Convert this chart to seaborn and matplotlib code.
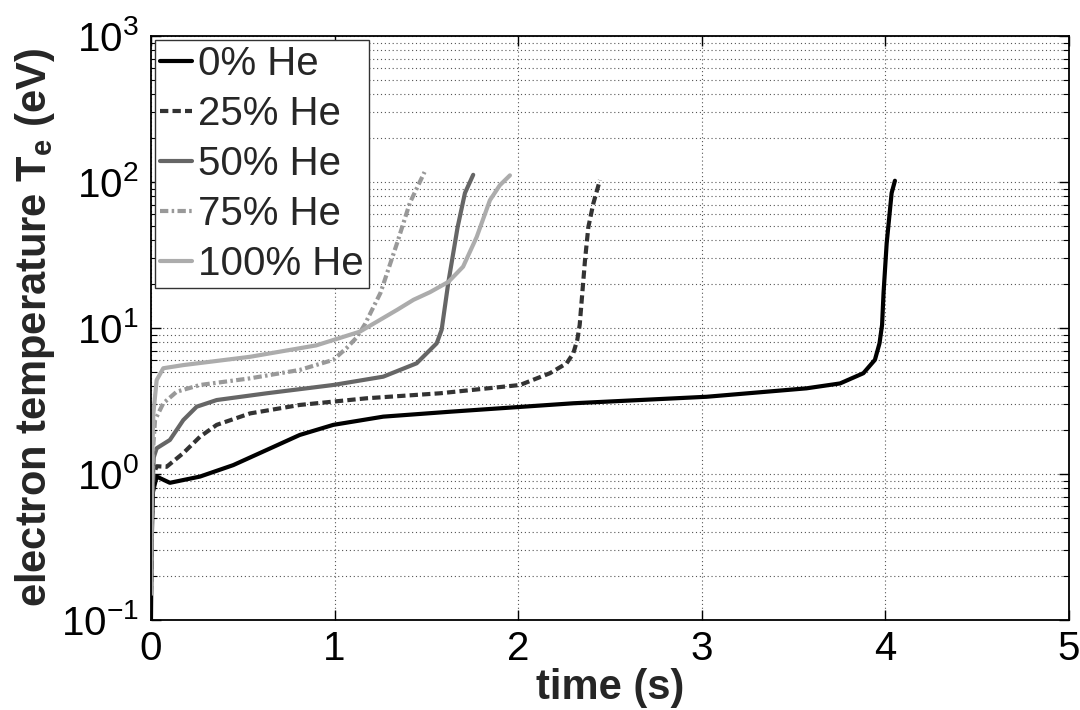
import numpy as np
import pandas as pd
import matplotlib
matplotlib.use("Agg")
import matplotlib.pyplot as plt
from matplotlib.ticker import LogLocator, FixedLocator
import seaborn as sns

# Electron temperature evolution for different helium fractions
t_0 = [0.0, 0.003, 0.01, 0.031, 0.103, 0.267, 0.448, 0.63, 0.81, 0.993,
       1.265, 1.63, 2.30, 3.027, 3.57, 3.753, 3.88, 3.943, 3.968, 3.982,
       3.99, 4.007, 4.034, 4.052]
te_0 = [0.1, 0.3, 0.75, 0.96, 0.87, 0.96, 1.15, 1.46, 1.85, 2.17,
        2.47, 2.67, 3.05, 3.38, 3.86, 4.17, 4.9, 6.05, 7.85, 10.5,
        17.4, 38, 84, 102]

t_25 = [0.0, 0.005, 0.015, 0.031, 0.085, 0.176, 0.267, 0.358, 0.54, 0.81,
        1.175, 1.574, 2.01, 2.173, 2.264, 2.30, 2.322, 2.335, 2.364, 2.382,
        2.409, 2.445]
te_25 = [0.15, 0.5, 1.0, 1.13, 1.12, 1.39, 1.8, 2.17, 2.6, 2.97,
         3.3, 3.57, 4.07, 4.9, 5.73, 6.7, 8.3, 10.5, 29.2, 49,
         71, 103]

t_50 = [0.0, 0.005, 0.015, 0.031, 0.103, 0.176, 0.249, 0.358, 0.63, 0.993,
        1.265, 1.447, 1.556, 1.583, 1.62, 1.67, 1.71, 1.755]
te_50 = [0.2, 0.6, 1.3, 1.5, 1.71, 2.34, 2.89, 3.21, 3.57, 4.07,
         4.64, 5.73, 7.85, 9.7, 20.7, 49, 84, 112]

t_75 = [0.0, 0.005, 0.013, 0.022, 0.067, 0.14, 0.267, 0.54, 0.81, 0.993,
        1.066, 1.12, 1.165, 1.25, 1.34, 1.41, 1.49]
te_75 = [0.3, 0.8, 1.6, 2.34, 3.05, 3.66, 4.07, 4.52, 5.16, 6.05,
         7.3, 8.6, 10.6, 17.4, 38, 72, 117]

t_100 = [0.0, 0.004, 0.008, 0.013, 0.031, 0.067, 0.176, 0.54, 0.9, 1.138,
         1.34, 1.43, 1.52, 1.62, 1.70, 1.774, 1.846, 1.90, 1.955]
te_100 = [0.15, 0.5, 1.5, 2.6, 4.4, 5.3, 5.57, 6.35, 7.6, 9.44,
          13.3, 15.6, 17.6, 20.7, 26.3, 42, 75, 95, 111]

labels = ["0% He", "25% He", "50% He", "75% He", "100% He"]
times = [t_0, t_25, t_50, t_75, t_100]
temps = [te_0, te_25, te_50, te_75, te_100]

colors = ["#000000", "#333333", "#666666", "#999999", "#acacac"]
styles = ["-", (0, (2.0, 1.0)), "-", (0, (2.0, 0.8, 0.6, 0.8)), "-"]

sns.set_theme(style="white")
plt.rcParams["font.family"] = ["Liberation Sans", "DejaVu Sans"]
plt.rcParams["mathtext.fontset"] = "custom"
plt.rcParams["mathtext.rm"] = "Liberation Sans"
plt.rcParams["mathtext.bf"] = "Liberation Sans:bold"
plt.rcParams["mathtext.it"] = "Liberation Sans:italic"
plt.rcParams["mathtext.default"] = "regular"

fig = plt.figure(figsize=(10.8, 7.1), dpi=100)
ax = fig.add_axes([0.1398, 0.1268, 0.85, 0.8225])

for lab, tt, vv, c, ls in zip(labels, times, temps, colors, styles):
    df = pd.DataFrame({"time": tt, "Te": vv})
    sns.lineplot(data=df, x="time", y="Te", ax=ax, sort=False, estimator=None,
                 color=c, linewidth=3.0, label=lab)
    ax.lines[-1].set_linestyle(ls)
    ax.lines[-1].set_solid_joinstyle("round")
    ax.lines[-1].set_dash_capstyle("butt")

ax.set_yscale("log")
ax.set_xlim(0, 5)
ax.set_ylim(0.1, 1000)
ax.xaxis.set_major_locator(FixedLocator([0, 1, 2, 3, 4, 5]))
ax.yaxis.set_major_locator(LogLocator(base=10, numticks=10))
ax.yaxis.set_minor_locator(LogLocator(base=10, subs=np.arange(2, 10), numticks=20))

ax.grid(which="major", axis="both", linestyle=(0, (1, 2.5)), color="#555555", linewidth=0.8)
ax.grid(which="minor", axis="y", linestyle=(0, (1, 2.5)), color="#555555", linewidth=0.8)

for s in ax.spines.values():
    s.set_color("black")
    s.set_linewidth(1.3)

ax.tick_params(which="both", direction="in", top=True, right=True,
               left=True, bottom=True, colors="black")
ax.tick_params(which="major", length=7, width=1.0, labelsize=29)
ax.tick_params(axis="x", which="major", pad=7)
ax.tick_params(axis="y", which="major", pad=9)
ax.tick_params(which="minor", length=4.5, width=0.8)

ax.set_xlabel("time (s)", fontsize=30, fontweight="bold")
ax.set_ylabel(r"electron temperature T$_\mathbf{e}$ (eV)", fontsize=30,
              fontweight="bold")
ax.xaxis.set_label_coords(0.5, -0.082)
ax.yaxis.set_label_coords(-0.102, 0.5)

leg = ax.legend(loc="upper left", fontsize=29, frameon=True, fancybox=False,
                handlelength=0.8, handletextpad=0.15, borderpad=0.12,
                labelspacing=0.3, borderaxespad=0.1)
leg.get_frame().set_edgecolor("#333333")
leg.get_frame().set_linewidth(1.0)
leg.get_frame().set_alpha(1.0)

fig.savefig("out.png", dpi=100)
